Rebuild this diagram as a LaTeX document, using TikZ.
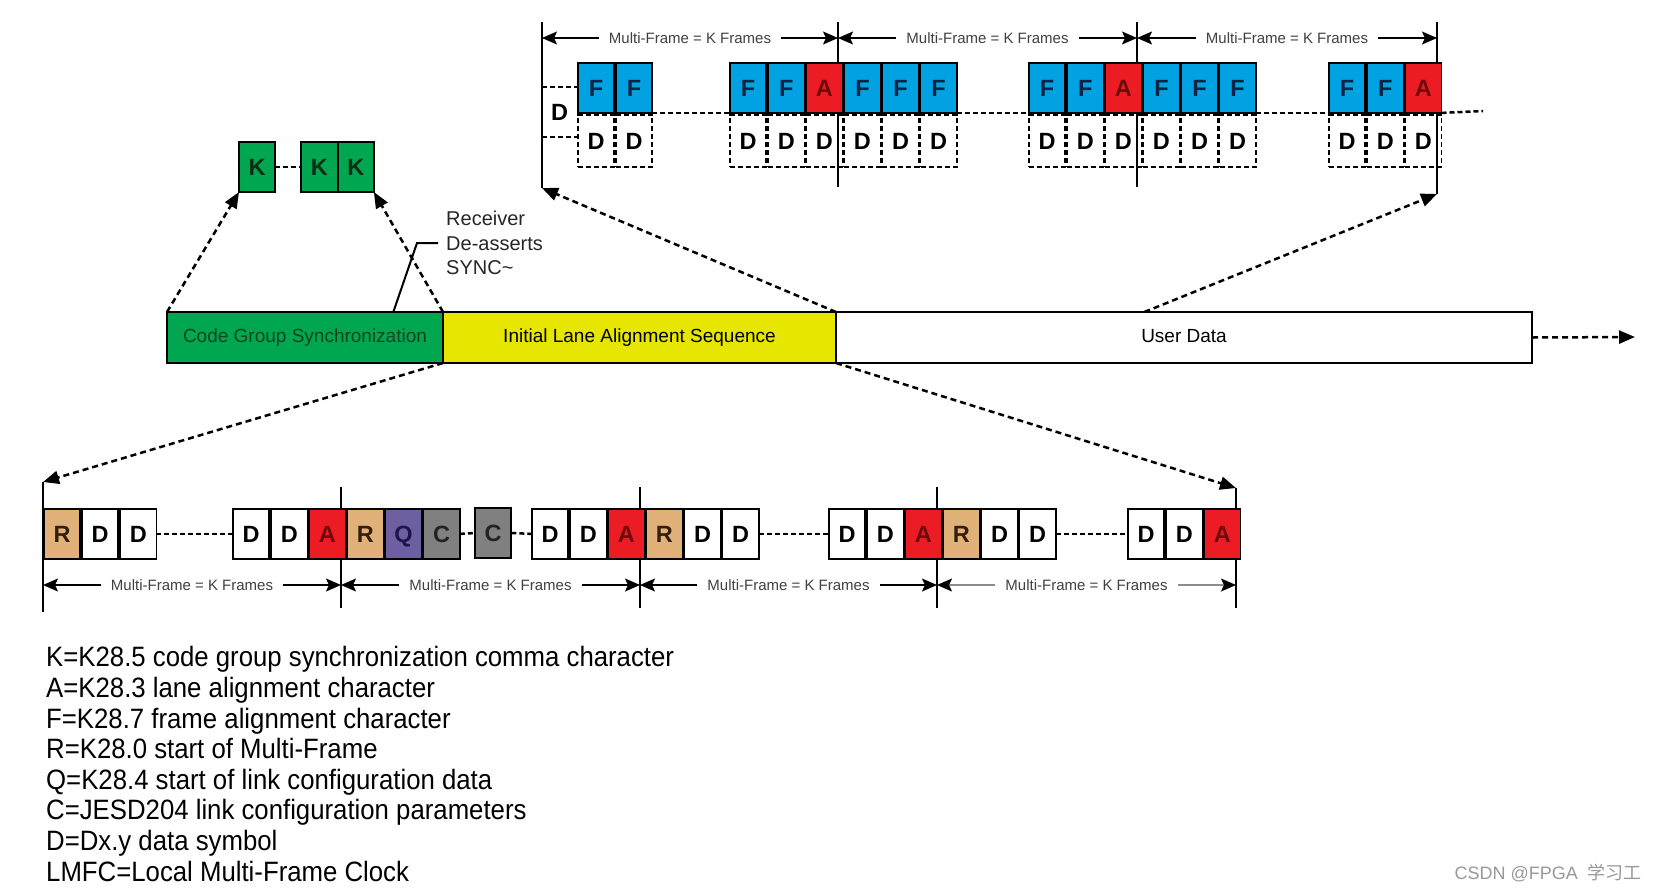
\documentclass[tikz,border=0pt]{standalone}
\usepackage{fontspec}
\setmainfont{Liberation Sans}
\newfontfamily\legendfont[FakeStretch=0.92]{Liberation Sans}
\newfontfamily\cjkfont{Noto Sans CJK SC}
\usetikzlibrary{matrix, positioning, calc, arrows.meta}
\definecolor{fblue}{RGB}{0,162,226}
\definecolor{ared}{RGB}{236,28,36}
\definecolor{rtan}{RGB}{224,178,122}
\definecolor{qpurple}{RGB}{110,96,160}
\definecolor{cgray}{RGB}{128,128,128}
\definecolor{kgreen}{RGB}{0,166,80}
\definecolor{ilasyellow}{RGB}{230,230,0}
\definecolor{fletter}{RGB}{15,35,70}
\definecolor{aletter}{RGB}{110,10,10}
\definecolor{rletter}{RGB}{50,30,10}
\definecolor{qletter}{RGB}{30,20,80}
\definecolor{cletter}{RGB}{35,35,35}
\definecolor{kletter}{RGB}{10,45,20}
\definecolor{cgstext}{RGB}{15,70,30}
\tikzset{
  sym/.style={rectangle, draw, line width=1.8pt, minimum width=36.3pt, minimum height=50pt,
    inner sep=0pt, outer sep=0pt, font=\fontsize{23.5}{23.5}\selectfont\bfseries,
    text height=17pt, text depth=0pt},
  symrow/.style={
    matrix of nodes,
    matrix anchor=north west,
    row sep=0pt,
    column sep=0pt,
    inner sep=0pt, outer sep=0pt,
    nodes={sym},
  },
  dd/.style={dash pattern=on 5pt off 3pt, minimum height=52pt},
  topgroup/.style={symrow, row 1/.style={nodes={fb}}, row 2/.style={nodes={dd}}},
  fb/.style={fill=fblue, text=fletter},
  ab/.style={fill=ared, text=aletter},
  rb/.style={fill=rtan, text=rletter},
  qb/.style={fill=qpurple, text=qletter},
  cb/.style={fill=cgray, text=cletter},
  kb/.style={sym, fill=kgreen, text=kletter},
  dpart/.style={sym, draw=none, minimum width=35pt},
  phase/.style={rectangle, draw, line width=2pt, minimum height=51pt, inner sep=0pt, outer sep=0pt,
    font=\fontsize{19}{19}\selectfont, text height=14pt, text depth=4pt},
  vline/.style={line width=2.2pt},
  mflabel/.style={inner xsep=10pt, inner ysep=0pt, font=\fontsize{15}{15}\selectfont, text=black!75},
  mfarrow/.style={line width=1.6pt, -{Stealth[length=15pt, width=13pt, inset=3pt]}},
  mfarrowgray/.style={mfarrow, draw=black!45, -{Stealth[length=15pt, width=13pt, inset=3pt, color=black]}},
  gapline/.style={line width=2.5pt, dash pattern=on 5pt off 3pt},
  zoomarrow/.style={line width=2.5pt, dash pattern=on 6pt off 4pt, -{Triangle[length=16pt, width=13pt]}},
  leader/.style={line width=2pt},
  rxlabel/.style={align=left, inner sep=0pt, font=\fontsize{20}{24.5}\selectfont, text=black!85},
  keytext/.style={align=left, inner sep=0pt, font=\legendfont\fontsize{28}{30.6}\selectfont},
  wmark/.style={inner sep=0pt, font=\fontsize{18}{18}\selectfont, text=black!40},
}

\begin{document}
\begin{tikzpicture}[x=1pt, y=-1pt]
  \path[use as bounding box, fill=white] (0,0) rectangle (1656,892);

  % top: frames inside the user data
  \coordinate (tt0) at (542,22);  \coordinate (tb0) at (542,188);
  \coordinate (tt1) at (838,22);  \coordinate (tb1) at (838,187);
  \coordinate (tt2) at (1137,22); \coordinate (tb2) at (1137,187);
  \coordinate (tt3) at (1437,22); \coordinate (tb3) at (1437,194);
  \draw[vline] (tt0) -- (tb0);
  \draw[vline] (tt1) -- (tb1);
  \draw[vline] (tt2) -- (tb2);
  \draw[vline] (tt3) -- (tb3);

  \path (tt0 |- 0,38) -- (tt1 |- 0,38) node[mflabel, midway] (tmf1) {Multi-Frame = K Frames};
  \path (tt1 |- 0,38) -- (tt2 |- 0,38) node[mflabel, midway] (tmf2) {Multi-Frame = K Frames};
  \path (tt2 |- 0,38) -- (tt3 |- 0,38) node[mflabel, midway] (tmf3) {Multi-Frame = K Frames};
  \draw[mfarrow] (tmf1.west) -- (tmf1.west -| tt0);
  \draw[mfarrow] (tmf1.east) -- (tmf1.east -| tt1);
  \draw[mfarrow] (tmf2.west) -- (tmf2.west -| tt1);
  \draw[mfarrow] (tmf2.east) -- (tmf2.east -| tt2);
  \draw[mfarrow] (tmf3.west) -- (tmf3.west -| tt2);
  \draw[mfarrow] (tmf3.east) -- (tmf3.east -| tt3);

  \node[dpart, anchor=west] (tdp) at (542,112) {D};
  \draw[gapline] (tdp.north west) -- (tdp.north east);
  \draw[gapline] (tdp.south west) -- (tdp.south east);

  \matrix (tg1) [topgroup] at (577,62) {F & F\\ D & D\\};
  \matrix (tg2) [topgroup] at (729.1,62) {F & F & |[ab]| A & F & F & F\\ D & D & D & D & D & D\\};
  \matrix (tg3) [topgroup] at (1028.1,62) {F & F & |[ab]| A & F & F & F\\ D & D & D & D & D & D\\};
  \matrix (tg4) [topgroup] at (1328.1,62) {F & F & |[ab]| A\\ D & D & D\\};
  \coordinate (tdend) at (1483,111);
  \draw[gapline] (tg1-1-2.south east) -- (tg2-1-1.south west);
  \draw[gapline] (tg2-1-6.south east) -- (tg3-1-1.south west);
  \draw[gapline] (tg3-1-6.south east) -- (tg4-1-1.south west);
  \draw[gapline] (tg4-1-3.south east) -- (tdend);

  % K characters
  \node[kb, anchor=north west] (k1) at (239,142) {K};
  \node[kb, right=26pt of k1] (k2) {K};
  \node[kb, right=0pt of k2] (k3) {K};
  \draw[gapline] (k1.east) -- (k2.west);

  % link phases
  \node[phase, fill=kgreen, text=cgstext, minimum width=276pt, anchor=north west] (cgs) at (167,312) {Code Group Synchronization};
  \node[phase, fill=ilasyellow, minimum width=393pt, right=0pt of cgs] (ilas) {Initial Lane Alignment Sequence};
  \node[phase, minimum width=696pt, right=0pt of ilas] (udata) {User Data};
  \coordinate (uend) at (1635,337);

  \node[rxlabel, anchor=west] (rx) at (446,243) {Receiver\\De-asserts\\SYNC\textasciitilde};
  \draw[leader] ([xshift=-8pt]rx.west) -- ++(-21pt,0) -- ($(cgs.north west)!0.82!(cgs.north east)$);

  % bottom: ILAS multi-frames
  \coordinate (bt0) at (43,482);  \coordinate (bb0) at (43,612);
  \coordinate (bt1) at (341,487); \coordinate (bb1) at (341,608);
  \coordinate (bt2) at (640,487); \coordinate (bb2) at (640,608);
  \coordinate (bt3) at (937,487); \coordinate (bb3) at (937,608);
  \coordinate (bt4) at (1236,488); \coordinate (bb4) at (1236,608);
  \draw[vline] (bt0) -- (bb0);
  \draw[vline] (bt1) -- (bb1);
  \draw[vline] (bt2) -- (bb2);
  \draw[vline] (bt3) -- (bb3);
  \draw[vline] (bt4) -- (bb4);

  \matrix (bg1) [symrow] at (43,508) {|[rb]| R & D & D\\};
  \matrix (bg2) [symrow] at (232.1,508) {D & D & |[ab]| A & |[rb]| R & |[qb]| Q & |[cb]| C\\};
  \node[sym, cb, anchor=north west] (bc) at (475,508) {C};
  \matrix (bg3) [symrow] at (531.1,508) {D & D & |[ab]| A & |[rb]| R & D & D\\};
  \matrix (bg4) [symrow] at (828.1,508) {D & D & |[ab]| A & |[rb]| R & D & D\\};
  \matrix (bg5) [symrow] at (1127.1,508) {D & D & |[ab]| A\\};
  \draw[gapline] (bg1-1-3.east) -- (bg2-1-1.west);
  \draw[gapline] (bg2-1-6.east) -- (bc.west);
  \draw[gapline] (bc.east) -- (bg3-1-1.west);
  \draw[gapline] (bg3-1-6.east) -- (bg4-1-1.west);
  \draw[gapline] (bg4-1-6.east) -- (bg5-1-1.west);

  \path (bt0 |- 0,585) -- (bt1 |- 0,585) node[mflabel, midway] (bmf1) {Multi-Frame = K Frames};
  \path (bt1 |- 0,585) -- (bt2 |- 0,585) node[mflabel, midway] (bmf2) {Multi-Frame = K Frames};
  \path (bt2 |- 0,585) -- (bt3 |- 0,585) node[mflabel, midway] (bmf3) {Multi-Frame = K Frames};
  \path (bt3 |- 0,585) -- (bt4 |- 0,585) node[mflabel, midway] (bmf4) {Multi-Frame = K Frames};
  \draw[mfarrow] (bmf1.west) -- (bmf1.west -| bt0);
  \draw[mfarrow] (bmf1.east) -- (bmf1.east -| bt1);
  \draw[mfarrow] (bmf2.west) -- (bmf2.west -| bt1);
  \draw[mfarrow] (bmf2.east) -- (bmf2.east -| bt2);
  \draw[mfarrow] (bmf3.west) -- (bmf3.west -| bt2);
  \draw[mfarrow] (bmf3.east) -- (bmf3.east -| bt3);
  \draw[mfarrowgray] (bmf4.west) -- (bmf4.west -| bt3);
  \draw[mfarrowgray] (bmf4.east) -- (bmf4.east -| bt4);

  % zoom arrows
  \draw[zoomarrow] (cgs.north west) -- (k1.south west);
  \draw[zoomarrow] (cgs.north east) -- (k3.south east);
  \draw[zoomarrow] (ilas.north east) -- (tb0);
  \draw[zoomarrow] ($(udata.north west)!0.443!(udata.north east)$) -- (tb3);
  \draw[zoomarrow] (cgs.south east) -- (bt0);
  \draw[zoomarrow] (ilas.south east) -- (bt4);
  \draw[zoomarrow] (udata.east) -- (uend);

  % key
  \node[keytext, anchor=west] (key) at (46,764) {K=K28.5 code group synchronization comma character\\
    A=K28.3 lane alignment character\\
    F=K28.7 frame alignment character\\
    R=K28.0 start of Multi-Frame\\
    Q=K28.4 start of link configuration data\\
    C=JESD204 link configuration parameters\\
    D=Dx.y data symbol\\
    LMFC=Local Multi-Frame Clock};

  \node[wmark, anchor=east] (wm) at (1642,873) {CSDN @FPGA\ \ {\cjkfont 学习工}};
\end{tikzpicture}
\end{document}
